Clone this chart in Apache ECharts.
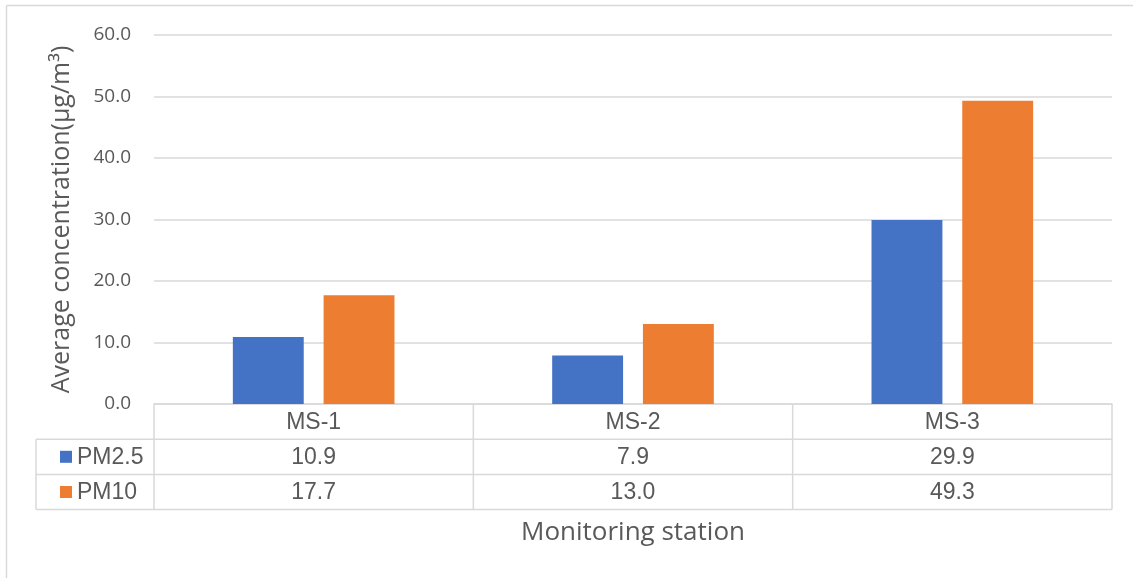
<!DOCTYPE html>
<html>
<head>
<meta charset="utf-8">
<script src="https://cdn.jsdelivr.net/npm/echarts@6/dist/echarts.min.js"></script>
<style>html,body{margin:0;padding:0;background:#fff}#c{width:1133px;height:578px}</style>
</head>
<body>
<div id="c"></div>
<script>
const categories = ['MS-1', 'MS-2', 'MS-3'];
const seriesNames = ['PM2.5', 'PM10'];
const pm25 = [10.9, 7.9, 29.9];
const pm10 = [17.7, 13.0, 49.3];
const seriesValues = [pm25, pm10];
const colors = ['#4472C4', '#ED7D31'];
const yAxisTitle = 'Average concentration(\u03bcg/m\u00b3)';
const xAxisTitle = 'Monitoring station';

const textColor = '#595959';
const lineColor = '#d9d9d9';

const chart = echarts.init(document.getElementById('c'), null, {renderer: 'canvas'});
chart.setOption({
  animation: false,
  backgroundColor: '#fff',
  grid: {left: 154, right: 21, top: 35, bottom: 174, containLabel: false},
  xAxis: {
    type: 'category',
    data: categories,
    axisLine: {show: true, lineStyle: {color: lineColor, width: 1.5}},
    axisTick: {show: false},
    axisLabel: {show: false},
    name: xAxisTitle,
    nameLocation: 'middle',
    nameGap: 116,
    nameTextStyle: {fontFamily: 'Open Sans', fontSize: 26, color: textColor}
  },
  yAxis: {
    type: 'value',
    min: 0, max: 60, interval: 10,
    axisLine: {show: false},
    axisTick: {show: false},
    splitLine: {lineStyle: {color: lineColor, width: 1.5}},
    axisLabel: {
      formatter: v => v.toFixed(1),
      fontFamily: 'Open Sans', fontSize: 19, color: textColor, margin: 23
    },
    name: yAxisTitle,
    nameLocation: 'middle',
    nameGap: 80,
    nameRotate: 90,
    nameTextStyle: {fontFamily: 'Open Sans', fontSize: 25, color: textColor}
  },
  series: seriesNames.map((n, i) => ({
    name: n,
    type: 'bar',
    data: seriesValues[i],
    barWidth: '22.2%',
    barGap: '28%',
    itemStyle: {color: colors[i]}
  }))
});

function drawTable() {
  const c0 = chart.convertToPixel({xAxisIndex: 0}, categories[0]);
  const c1 = chart.convertToPixel({xAxisIndex: 0}, categories[1]);
  const band = c1 - c0;
  const left = c0 - band / 2;
  const right = left + band * categories.length;
  const yBase = chart.convertToPixel({yAxisIndex: 0}, 0);
  const rowH = 35.2;
  const legendLeft = 36;
  const els = [];
  const ls = {stroke: lineColor, lineWidth: 1.5};
  for (let r = 1; r <= seriesNames.length + 1; r++) {
    const y = yBase + r * rowH;
    els.push({type: 'line', shape: {x1: legendLeft, y1: y, x2: right, y2: y}, style: ls, silent: true});
  }
  els.push({type: 'line', shape: {x1: legendLeft, y1: yBase + rowH, x2: legendLeft, y2: yBase + rowH * (seriesNames.length + 1)}, style: ls});
  for (let k = 0; k <= categories.length; k++) {
    const x = left + k * band;
    els.push({type: 'line', shape: {x1: x, y1: yBase, x2: x, y2: yBase + rowH * (seriesNames.length + 1)}, style: ls});
  }
  const font = '23px "Liberation Sans"';
  categories.forEach((c, k) => {
    els.push({type: 'text', style: {text: c, x: left + (k + 0.5) * band, y: yBase + rowH / 2 + 1, align: 'center', verticalAlign: 'middle', font: font, fill: textColor}});
  });
  seriesNames.forEach((n, i) => {
    const yc = yBase + (i + 1.5) * rowH;
    els.push({type: 'rect', shape: {x: 60, y: yc - 6, width: 12, height: 12}, style: {fill: colors[i]}});
    els.push({type: 'text', style: {text: n, x: 77, y: yc + 1, align: 'left', verticalAlign: 'middle', font: font, fill: textColor}});
    seriesValues[i].forEach((v, k) => {
      els.push({type: 'text', style: {text: v.toFixed(1), x: left + (k + 0.5) * band, y: yc + 1, align: 'center', verticalAlign: 'middle', font: font, fill: textColor}});
    });
  });
  els.push({type: 'line', shape: {x1: 6.5, y1: 5.5, x2: 1133, y2: 5.5}, style: ls});
  els.push({type: 'line', shape: {x1: 6.5, y1: 5.5, x2: 6.5, y2: 578}, style: ls});
  chart.setOption({graphic: els});
}
drawTable();
</script>
</body>
</html>
